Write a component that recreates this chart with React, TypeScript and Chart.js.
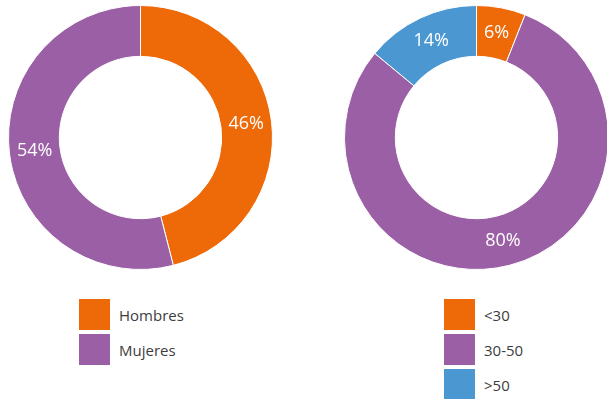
import React, { useEffect, useRef } from "react";
import { Chart, registerables } from "chart.js";

Chart.register(...registerables);

const genderLabels = ["Hombres", "Mujeres"];
const genderValues = [46, 54];
const genderColors = ["#EE6A08", "#9B5FA5"];

const ageLabels = ["<30", "30-50", ">50"];
const ageValues = [6, 80, 14];
const ageColors = ["#EE6A08", "#9B5FA5", "#4A97D2"];

const FONT = "'Open Sans', Lato, sans-serif";

const pctLabels = {
  id: "pctLabels",
  afterDatasetsDraw(chart: any) {
    const ctx = chart.ctx;
    const meta = chart.getDatasetMeta(0);
    const data = chart.data.datasets[0].data as number[];
    ctx.save();
    ctx.fillStyle = "#ffffff";
    ctx.font = `18px ${FONT}`;
    ctx.textAlign = "center";
    ctx.textBaseline = "middle";
    meta.data.forEach((arc: any, i: number) => {
      const p = arc.tooltipPosition();
      ctx.fillText(`${data[i]}%`, p.x, p.y);
    });
    ctx.restore();
  },
};

function Donut({ labels, values, colors, left }: { labels: string[]; values: number[]; colors: string[]; left: number }) {
  const ref = useRef<HTMLCanvasElement>(null);
  useEffect(() => {
    const chart = new Chart(ref.current!, {
      type: "doughnut",
      data: {
        labels,
        datasets: [
          {
            data: values,
            backgroundColor: colors,
            borderColor: "#ffffff",
            borderWidth: 1,
            hoverOffset: 0,
          },
        ],
      },
      options: {
        animation: false,
        responsive: false,
        cutout: "61.5%",
        layout: { padding: 0 },
        plugins: { legend: { display: false }, tooltip: { enabled: false } },
      },
      plugins: [pctLabels],
    });
    return () => chart.destroy();
  }, []);
  return (
    <div style={{ position: "absolute", left, top: 5, width: 265, height: 265 }}>
      <canvas ref={ref} width={265} height={265} style={{ width: 265, height: 265 }} />
    </div>
  );
}

function Legend({ labels, colors, left }: { labels: string[]; colors: string[]; left: number }) {
  return (
    <div style={{ position: "absolute", left, top: 299 }}>
      {labels.map((l, i) => (
        <div key={l} style={{ display: "flex", alignItems: "center", height: 31, marginBottom: 4 }}>
          <div style={{ width: 31, height: 31, background: colors[i] }} />
          <span style={{ marginLeft: 9, font: `15px ${FONT}`, color: "#3d3d3d" }}>{l}</span>
        </div>
      ))}
    </div>
  );
}

export default function App() {
  return (
    <div style={{ position: "absolute", left: 0, top: 0, width: 607, height: 399, overflow: "hidden", background: "#fff" }}>
      <Donut labels={genderLabels} values={genderValues} colors={genderColors} left={8} />
      <Donut labels={ageLabels} values={ageValues} colors={ageColors} left={344} />
      <Legend labels={genderLabels} colors={genderColors} left={79} />
      <Legend labels={ageLabels} colors={ageColors} left={444} />
    </div>
  );
}
